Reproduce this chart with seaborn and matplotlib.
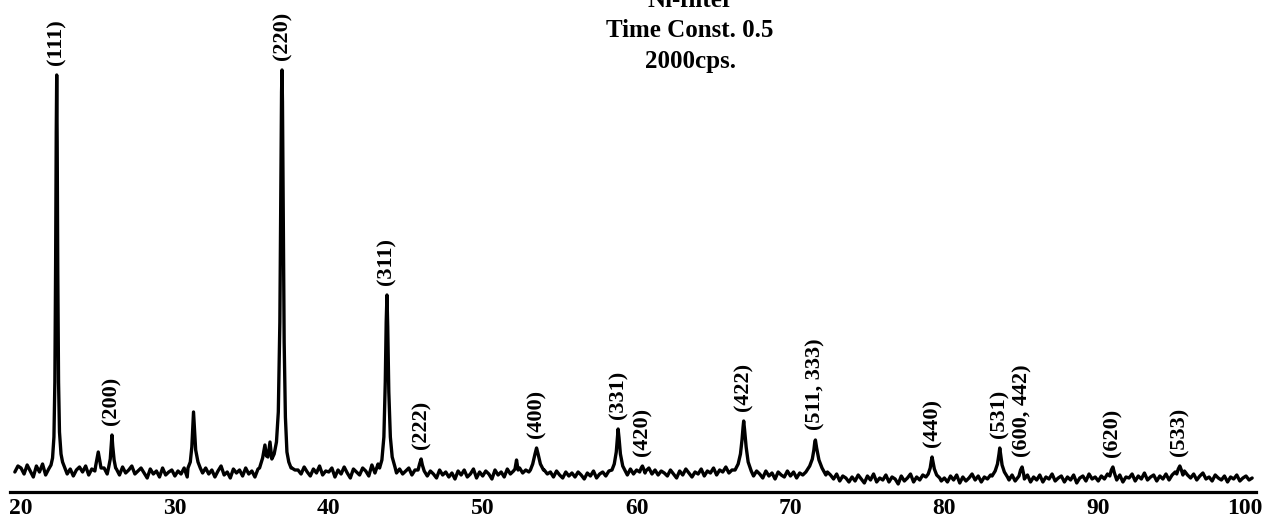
import numpy as np
import pandas as pd
import matplotlib
matplotlib.use("Agg")
import matplotlib.pyplot as plt
import matplotlib.transforms as mtransforms
import seaborn as sns

# ---------------- data (intensity in arbitrary units) -------------
# background trace sampled every 0.2 deg starting at 19.6 deg 2-theta
bg_start = 19.6
bg_step = 0.2
bg_counts = [
    20, 26,
    24, 18, 27, 21, 15, 26, 20, 28, 17, 23,   # 20
    25, 19, 24, 22, 26, 18, 23, 16, 22, 25,   # 22
    20, 26, 17, 23, 21, 27, 19, 24, 18, 22,   # 24
    20, 23, 17, 25, 19, 22, 26, 18, 21, 24,   # 26
    19, 14, 23, 18, 21, 15, 24, 17, 20, 22,   # 28
    16, 21, 18, 24, 15, 20, 23, 17, 22, 19,   # 30
    24, 18, 22, 15, 21, 26, 17, 20, 14, 23,   # 32
    19, 22, 16, 24, 18, 21, 15, 23, 20, 25,   # 34
    28, 30, 32, 34, 36, 38, 40, 30, 24, 22,   # 36
    22, 18, 25, 20, 16, 23, 19, 26, 17, 21,   # 38
    20, 24, 15, 22, 18, 25, 19, 14, 23, 20,   # 40
    17, 24, 21, 16, 27, 19, 28, 18, 27, 22,   # 42
    22, 25, 19, 23, 18, 21, 24, 17, 22, 19,   # 44
    20, 23, 16, 21, 18, 14, 22, 17, 20, 15,   # 46
    19, 13, 21, 17, 22, 15, 18, 23, 14, 20,   # 48
    16, 21, 18, 13, 22, 17, 20, 15, 23, 18,   # 50
    21, 17, 24, 19, 22, 20, 18, 25, 21, 23,   # 52
    22, 18, 20, 15, 21, 17, 14, 20, 16, 19,   # 54
    15, 20, 17, 13, 19, 16, 21, 14, 18, 20,   # 56
    16, 21, 18, 24, 20, 22, 20, 17, 23, 18,   # 58
    22, 19, 25, 21, 24, 18, 22, 17, 21, 19,   # 60
    16, 22, 18, 14, 21, 17, 23, 19, 15, 20,   # 62
    18, 23, 16, 21, 19, 24, 17, 22, 20, 25,   # 64
    19, 22, 24, 20, 26, 20, 17, 22, 16, 21,   # 66
    18, 14, 21, 16, 19, 13, 20, 17, 15, 21,   # 68
    16, 20, 14, 19, 17, 22, 18, 24, 21, 26,   # 70
    19, 15, 20, 17, 13, 18, 11, 16, 14, 10,   # 72
    15, 11, 17, 13, 9, 16, 12, 18, 10, 14,    # 74
    12, 17, 10, 15, 13, 8, 16, 11, 14, 18,    # 76
    10, 15, 12, 17, 9, 14, 18, 13, 16, 11,    # 78
    14, 10, 16, 12, 17, 9, 15, 11, 14, 18,    # 80
    12, 16, 10, 15, 13, 17, 14, 19, 16, 20,   # 82
    16, 12, 17, 11, 15, 20, 13, 17, 10, 15,   # 84
    12, 17, 10, 15, 13, 18, 11, 14, 16, 10,   # 86
    15, 12, 17, 9, 14, 16, 11, 18, 13, 15,    # 88
    11, 16, 13, 18, 20, 16, 12, 17, 10, 15,   # 90
    14, 18, 11, 16, 13, 19, 12, 15, 17, 11,   # 92
    16, 13, 18, 12, 17, 20, 18, 15, 21, 17,   # 94
    14, 18, 12, 16, 19, 13, 15, 11, 17, 14,   # 96
    12, 16, 10, 15, 13, 17, 11, 14, 16, 12,   # 98
    14,
]

# peak profiles: (2-theta points, intensity points)
p111_theta = [21.95, 22.05, 22.14, 22.20, 22.25, 22.29, 22.32, 22.35, 22.39, 22.44, 22.50, 22.60, 22.70]
p111_counts = [27, 34, 55, 110, 230, 360, 417, 350, 220, 110, 60, 38, 30]
p250_theta = [24.85, 24.95, 25.02, 25.10, 25.20]
p250_counts = [26, 34, 40, 33, 24]
p200_theta = [25.70, 25.80, 25.87, 25.91, 25.96, 26.05, 26.15]
p200_counts = [25, 33, 48, 57, 46, 32, 24]
p312_theta = [30.85, 31.00, 31.10, 31.17, 31.21, 31.26, 31.35, 31.50, 31.65]
p312_counts = [24, 30, 45, 68, 80, 66, 42, 30, 24]
p220_theta = [35.50, 35.70, 35.85, 35.95, 36.05, 36.18, 36.30, 36.45, 36.60, 36.72, 36.82,
              36.88, 36.93, 36.96, 36.99, 37.04, 37.10, 37.18, 37.28, 37.40, 37.55]
p220_counts = [24, 34, 47, 36, 35, 50, 33, 38, 50, 80, 170, 300, 400, 422, 390, 280, 150, 75, 40, 30, 24]
p311_theta = [43.30, 43.45, 43.58, 43.67, 43.73, 43.78, 43.83, 43.90, 44.00, 44.12, 44.30]
p311_counts = [24, 32, 55, 110, 170, 197, 165, 100, 55, 35, 25]
p222_theta = [45.80, 45.90, 46.00, 46.08, 46.20]
p222_counts = [22, 28, 33, 27, 21]
p522_theta = [52.10, 52.20, 52.30]
p522_counts = [23, 32, 22]
p400_theta = [53.10, 53.25, 53.40, 53.50, 53.60, 53.75, 53.95]
p400_counts = [22, 28, 38, 44, 38, 28, 22]
p331_theta = [58.40, 58.55, 58.68, 58.76, 58.80, 58.86, 58.95, 59.10, 59.30]
p331_counts = [22, 28, 40, 56, 63, 54, 38, 26, 20]
p420_theta = [60.20, 60.30, 60.38, 60.46, 60.55]
p420_counts = [20, 24, 26, 23, 19]
p422_theta = [66.40, 66.60, 66.75, 66.85, 66.92, 66.96, 67.02, 67.12, 67.25, 67.45]
p422_counts = [22, 28, 38, 52, 65, 71, 62, 45, 30, 21]
p511_theta = [71.00, 71.25, 71.42, 71.52, 71.58, 71.62, 71.70, 71.85, 72.05, 72.30]
p511_counts = [20, 26, 33, 42, 50, 52, 44, 32, 24, 17]
p440_theta = [78.80, 78.95, 79.08, 79.15, 79.20, 79.26, 79.35, 79.50, 79.70]
p440_counts = [15, 18, 24, 31, 35, 30, 23, 17, 14]
p531_theta = [83.10, 83.30, 83.45, 83.55, 83.60, 83.66, 83.75, 83.90, 84.10]
p531_counts = [16, 21, 28, 38, 44, 37, 27, 20, 15]
p600_theta = [84.85, 84.95, 85.05, 85.15]
p600_counts = [16, 22, 25, 18]
p620_theta = [90.75, 90.85, 90.95, 91.05]
p620_counts = [16, 22, 25, 19]
p533_theta = [95.10, 95.20, 95.30, 95.40, 95.50]
p533_counts = [18, 23, 26, 22, 17]

peak_profiles = [
    (p111_theta, p111_counts), (p250_theta, p250_counts), (p200_theta, p200_counts),
    (p312_theta, p312_counts), (p220_theta, p220_counts), (p311_theta, p311_counts),
    (p222_theta, p222_counts), (p522_theta, p522_counts), (p400_theta, p400_counts),
    (p331_theta, p331_counts), (p420_theta, p420_counts), (p422_theta, p422_counts),
    (p511_theta, p511_counts), (p440_theta, p440_counts), (p531_theta, p531_counts),
    (p600_theta, p600_counts), (p620_theta, p620_counts), (p533_theta, p533_counts),
]

# peak labels
hkl_labels = ["(111)", "(200)", "(220)", "(311)", "(222)", "(400)", "(331)", "(420)",
              "(422)", "(511, 333)", "(440)", "(531)", "(600, 442)", "(620)", "(533)"]
label_theta = [22.32, 25.91, 36.96, 43.78, 46.00, 53.50, 58.80, 60.38,
               66.96, 71.62, 79.20, 83.60, 85.05, 90.95, 95.30]
label_height = [417, 57, 422, 197, 33, 44, 63, 26, 71, 52, 35, 44, 25, 25, 26]

xticks = [20, 30, 40, 50, 60, 70, 80, 90, 100]
xtick_labels = ["20", "30", "40", "50", "60", "70", "80", "90", "100"]

header_lines = ["Ni-filter", "Time Const. 0.5", "2000cps."]

# ---------------- build trace ----------------
bg_theta = np.round(bg_start + bg_step * np.arange(len(bg_counts)), 2)
bg_vals = np.array(bg_counts, dtype=float)
keep = np.ones(len(bg_theta), dtype=bool)
for th, _ in peak_profiles:
    keep &= ~((bg_theta >= min(th)) & (bg_theta <= max(th)))
theta_all = np.concatenate([bg_theta[keep]] + [np.array(t, float) for t, _ in peak_profiles])
counts_all = np.concatenate([bg_vals[keep]] + [np.array(c, float) for _, c in peak_profiles])
order = np.argsort(theta_all)
df = pd.DataFrame({"two_theta": theta_all[order], "intensity": counts_all[order]})

# ---------------- plot ----------------
sns.set_theme(style="white")
plt.rcParams["font.family"] = ["Liberation Serif", "DejaVu Serif"]
plt.rcParams["font.weight"] = "bold"

W, H = 1263, 518
fig = plt.figure(figsize=(W / 100, H / 100), dpi=100)
fig.patch.set_facecolor("white")
ax = fig.add_axes([10 / W, 26 / H, 1246 / W, 492 / H])
ax.set_facecolor("white")

sns.lineplot(data=df, x="two_theta", y="intensity", ax=ax, color="black",
             linewidth=2.4, estimator=None, sort=False)

ax.set_xlim(19.285, 100.25)
ax.set_ylim(0, 492)
ax.set_xlabel("")
ax.set_ylabel("")
ax.set_yticks([])
ax.set_xticks(xticks)
ax.set_xticklabels(xtick_labels, fontsize=17, fontweight="bold")
ax.tick_params(axis="x", direction="inout", length=6, width=1.5, color="black", pad=1,
               labelcolor="black")
for s in ["top", "left", "right"]:
    ax.spines[s].set_visible(False)
ax.spines["bottom"].set_linewidth(2.3)
ax.spines["bottom"].set_color("black")

# keep the last tick label inside the picture, as in the reference
last = ax.get_xticklabels()[-1]
last.set_horizontalalignment("right")
last.set_transform(last.get_transform() + mtransforms.ScaledTranslation(10 / 100, 0, fig.dpi_scale_trans))

for lab, th, h in zip(hkl_labels, label_theta, label_height):
    ax.text(th, h + 10, lab, rotation=90, ha="center", va="bottom",
            fontsize=16, fontweight="bold", color="black")

# header text (figure pixels from top -> baseline)
for txt, ypx in zip(header_lines, [7, 37, 68]):
    fig.text(690 / W, 1 - ypx / H, txt, ha="center", va="baseline",
             fontsize=18, fontweight="bold", color="black")

fig.savefig("out.png", dpi=100, facecolor="white")
